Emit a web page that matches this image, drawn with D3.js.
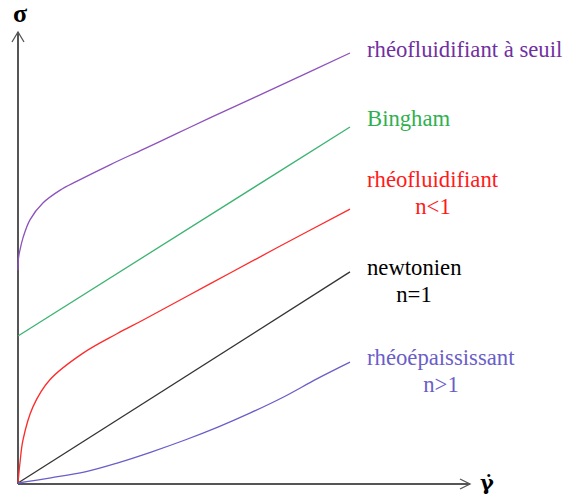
<!DOCTYPE html>
<html>
<head>
<meta charset="utf-8">
<script src="https://cdn.jsdelivr.net/npm/d3@7"></script>
</head>
<body style="margin:0">
<svg id="chart" width="565" height="501"></svg>
<script>
// shear rate (gamma dot) samples, arbitrary units
const seuilX = [0, 0.015, 0.06, 0.15, 0.36, 0.75, 1.27, 1.78, 2.77, 3.77, 4.79, 5.78, 7.89, 10];
const seuilY = [4.95, 5.23, 5.42, 5.70, 6.12, 6.51, 6.81, 7.02, 7.40, 7.76, 8.13, 8.49, 9.24, 10.0];

const binghamX = [0, 10];
const binghamY = [3.42, 8.28];

const fluidX = [0, 0.06, 0.15, 0.45, 0.96, 1.96, 2.98, 3.77, 5.78, 7.80, 10];
const fluidY = [0, 0.47, 1.0, 1.77, 2.40, 3.02, 3.47, 3.79, 4.63, 5.47, 6.37];

const newtonX = [0, 10];
const newtonY = [0, 4.91];

const epaisX = [0, 0.99, 2.02, 3.01, 4.01, 5.03, 6.02, 7.0, 8.0, 9.0, 10];
const epaisY = [0, 0.12, 0.26, 0.47, 0.72, 1.0, 1.30, 1.63, 2.00, 2.42, 2.81];

const labels = ['rhéofluidifiant à seuil', 'Bingham', 'rhéofluidifiant', 'newtonien', 'rhéoépaississant'];
const subLabels = ['', '', 'n<1', 'n=1', 'n>1'];

// label layout: baseline of the first line, centre of the second line
const series = [
  { xs: seuilX, ys: seuilY, color: '#8d52bc', text: '#7030a0', ty: 57, cx: 0 },
  { xs: binghamX, ys: binghamY, color: '#3cb371', text: '#2fb050', ty: 126, cx: 0 },
  { xs: fluidX, ys: fluidY, color: '#ff2a2a', text: '#ff1a1a', ty: 187, cx: 433 },
  { xs: newtonX, ys: newtonY, color: '#333333', text: '#000000', ty: 275, cx: 414 },
  { xs: epaisX, ys: epaisY, color: '#6a5ec8', text: '#6a5ec8', ty: 365, cx: 441 }
];

const serif = '"Liberation Serif"';
const svg = d3.select('#chart');

const x = d3.scaleLinear().domain([0, 10]).range([18, 350]);
const y = d3.scaleLinear().domain([0, 10]).range([483, 53]);

// Axes with open arrow heads
const axisColor = '#555';
const x0 = x(0), y0 = y(0) + 1;
const axes = svg.append('g')
  .attr('fill', 'none')
  .attr('stroke', axisColor)
  .attr('stroke-width', 2);

axes.append('line').attr('x1', x0).attr('y1', y0).attr('x2', x0).attr('y2', 32);
axes.append('line').attr('x1', x0).attr('y1', y0).attr('x2', 470).attr('y2', y0);
axes.append('path')
  .attr('stroke-width', 1.3)
  .attr('d', `M${x0 - 6},${42} L${x0},${32} L${x0 + 6},${42}`);
axes.append('path')
  .attr('stroke-width', 1.3)
  .attr('d', `M${460},${y0 - 5} L${470},${y0} L${460},${y0 + 5}`);

svg.append('text')
  .attr('x', 20).attr('y', 22)
  .attr('text-anchor', 'middle')
  .attr('font-size', 26)
  .attr('font-weight', 'bold')
  .style('font-family', serif)
  .text('σ');

svg.append('text')
  .attr('x', 487).attr('y', 490)
  .attr('text-anchor', 'middle')
  .attr('font-size', 21)
  .attr('font-weight', 'bold')
  .style('font-family', '"DejaVu Serif"')
  .text('γ̇');

// Curves
const line = d3.line()
  .x(d => x(d[0]))
  .y(d => y(d[1]))
  .curve(d3.curveCatmullRom.alpha(0.5));

series.forEach((s, i) => {
  const pts = s.xs.map((v, k) => [v, s.ys[k]]);
  svg.append('path')
    .datum(pts)
    .attr('fill', 'none')
    .attr('stroke', s.color)
    .attr('stroke-width', 1.3)
    .attr('d', line);

  svg.append('text')
    .attr('x', 367).attr('y', s.ty)
    .attr('font-size', 22.7)
    .style('font-family', serif)
    .attr('fill', s.text)
    .text(labels[i]);

  if (subLabels[i]) {
    svg.append('text')
      .attr('x', s.cx).attr('y', s.ty + 27)
      .attr('text-anchor', 'middle')
      .attr('font-size', 22.7)
      .style('font-family', serif)
      .attr('fill', s.text)
      .text(subLabels[i]);
  }
});
</script>
</body>
</html>
